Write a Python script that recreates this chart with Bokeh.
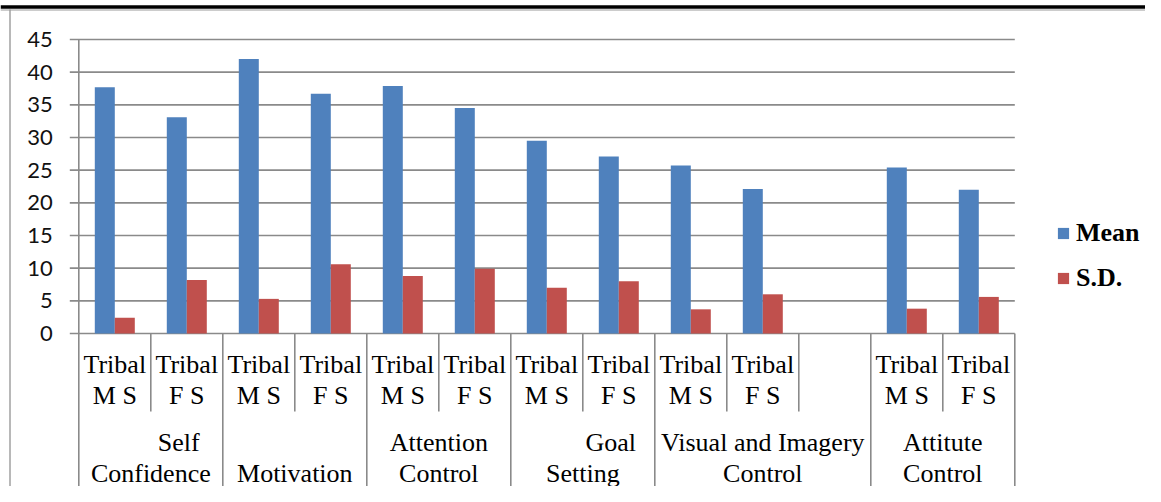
from bokeh.plotting import figure
from bokeh.models import ColumnDataSource, Legend, LegendItem, Range1d
from bokeh.core.properties import value
from bokeh.transform import dodge
from bokeh.embed import file_html
from bokeh.resources import INLINE

# ---------------- data ----------------
group_names = ["Self Confidence", "Motivation", "Attention Control",
               "Goal Setting", "Visual and Imagery Control", "Attitute Control"]
group_lines = [("Self", "Confidence"), ("", "Motivation"), ("Attention", "Control"),
               ("Goal", "Setting"), ("Visual and Imagery", "Control"), ("Attitute", "Control")]
group_sizes = [2, 2, 2, 2, 3, 2]
sub_labels = ["Tribal\nM S", "Tribal\nF S", "Tribal\nM S", "Tribal\nF S",
              "Tribal\nM S", "Tribal\nF S", "Tribal\nM S", "Tribal\nF S",
              "Tribal\nM S", "Tribal\nF S", "",
              "Tribal\nM S", "Tribal\nF S"]
series = ["Mean", "S.D."]
mean_vals = [37.7, 33.1, 42.0, 36.7, 37.9, 34.5, 29.5, 27.1, 25.7, 22.1, None, 25.4, 22.0]
sd_vals = [2.4, 8.2, 5.3, 10.6, 8.8, 9.9, 7.0, 8.0, 3.7, 6.0, None, 3.8, 5.6]
y_ticks = [0, 5, 10, 15, 20, 25, 30, 35, 40, 45]

colors = ["#4F81BD", "#C0504D"]
GRID = "#8a8a8a"

# ---------------- layout constants ----------------
W, H = 1145, 486
SLOT_PX = 72.0                 # pixels per category slot
UNIT_PX = 294.0 / 45.0         # pixels per value unit
AXIS_X, ZERO_Y = 78.3, 333.0
x_start = -AXIS_X / SLOT_PX
x_end = x_start + W / SLOT_PX
y_end = ZERO_Y / UNIT_PX
y_start = y_end - H / UNIT_PX
n = len(sub_labels)


def dx(px):
    return px / SLOT_PX


def dy(px):
    return px / UNIT_PX


p = figure(width=W, height=H, x_range=Range1d(x_start, x_end), y_range=Range1d(y_start, y_end),
           output_backend="svg", toolbar_location=None, min_border=0,
           x_axis_type=None, y_axis_type=None, outline_line_color=None,
           background_fill_color="white", border_fill_color="white")

# horizontal gridlines (with outward stubs)
p.segment(x0=[-dx(9)] * len(y_ticks), x1=[n] * len(y_ticks), y0=y_ticks, y1=y_ticks,
          line_color=GRID, line_width=1.6)

# bars
nan = float("nan")
src = ColumnDataSource(dict(
    x=[i + 0.5 for i in range(n)],
    mean=[nan if v is None else v for v in mean_vals],
    sd=[nan if v is None else v for v in sd_vals],
))
bw = dx(20)
r_mean = p.vbar(x=dodge("x", -bw / 2), top="mean", bottom=0, width=bw, source=src,
                fill_color=colors[0], line_color=None)
r_sd = p.vbar(x=dodge("x", bw / 2), top="sd", bottom=0, width=bw, source=src,
              fill_color=colors[1], line_color=None)

# y axis line continuing as the first separator
p.segment(x0=[0], x1=[0], y0=[y_ticks[-1]], y1=[-dy(156)], line_color=GRID, line_width=1.6)

# y tick labels
p.text(x=[0] * len(y_ticks), y=y_ticks, text=[str(t) for t in y_ticks],
       x_offset=-26, text_align="right", text_baseline="middle",
       text_font=value("Lato"), text_font_size="22px", text_color="#111111")

# category separators
bounds = set()
acc = 0
for s in group_sizes:
    acc += s
    bounds.add(acc)
long_x = [b for b in range(1, n + 1) if b in bounds]
short_x = [b for b in range(1, n + 1) if b not in bounds]
p.segment(x0=long_x, x1=long_x, y0=[0] * len(long_x), y1=[-dy(156)] * len(long_x),
          line_color=GRID, line_width=1.6)
p.segment(x0=short_x, x1=short_x, y0=[0] * len(short_x), y1=[-dy(78)] * len(short_x),
          line_color=GRID, line_width=1.6)

# sub-category labels
l1 = [s.split("\n")[0] if s else "" for s in sub_labels]
l2 = [s.split("\n")[1] if s else "" for s in sub_labels]
xc = [i + 0.5 for i in range(n)]
serif = value("Liberation Serif")
for lines, off in ((l1, 31), (l2, 62)):
    p.text(x=xc, y=[0] * n, text=lines, y_offset=off, text_align="center",
           text_baseline="alphabetic", text_font=serif, text_font_size="26px",
           text_color="black")

# group labels
starts = []
acc = 0
for s in group_sizes:
    starts.append(acc)
    acc += s
gc = [st + s / 2 for st, s in zip(starts, group_sizes)]
g1 = [a for a, b in group_lines]
g2 = [b for a, b in group_lines]
shift = [28 if a in ("Self", "Goal") else 0 for a, b in group_lines]
p.text(x=gc, y=[0] * len(gc), text=g1, x_offset=shift, y_offset=109, text_align="center",
       text_baseline="alphabetic", text_font=serif, text_font_size="26px", text_color="black")
p.text(x=gc, y=[0] * len(gc), text=g2, y_offset=139.5, text_align="center",
       text_baseline="alphabetic", text_font=serif, text_font_size="26px", text_color="black")

# page frame decorations (top rule, left border)
p.segment(x0=[x_start], x1=[x_end], y0=[y_end - dy(6.5)], y1=[y_end - dy(6.5)],
          line_color="black", line_width=3.5)
p.segment(x0=[x_start], x1=[x_end], y0=[y_end - dy(9.5)], y1=[y_end - dy(9.5)],
          line_color="#9a9a9a", line_width=1.2)
p.segment(x0=[x_start + dx(9.5)], x1=[x_start + dx(9.5)], y0=[y_end - dy(9)], y1=[y_start],
          line_color="#9a9a9a", line_width=1.4)

# legend
legend = Legend(items=[LegendItem(label=series[0], renderers=[r_mean]),
                       LegendItem(label=series[1], renderers=[r_sd])],
                location=(1056, 193), orientation="vertical",
                glyph_width=14, glyph_height=14, label_standoff=6, spacing=15,
                padding=0, margin=0, border_line_color=None, background_fill_alpha=0,
                label_text_font="Liberation Serif", label_text_font_style="bold",
                label_text_font_size="26px", label_text_color="black")
p.add_layout(legend)

open("out.html", "w").write(file_html(p, INLINE))
